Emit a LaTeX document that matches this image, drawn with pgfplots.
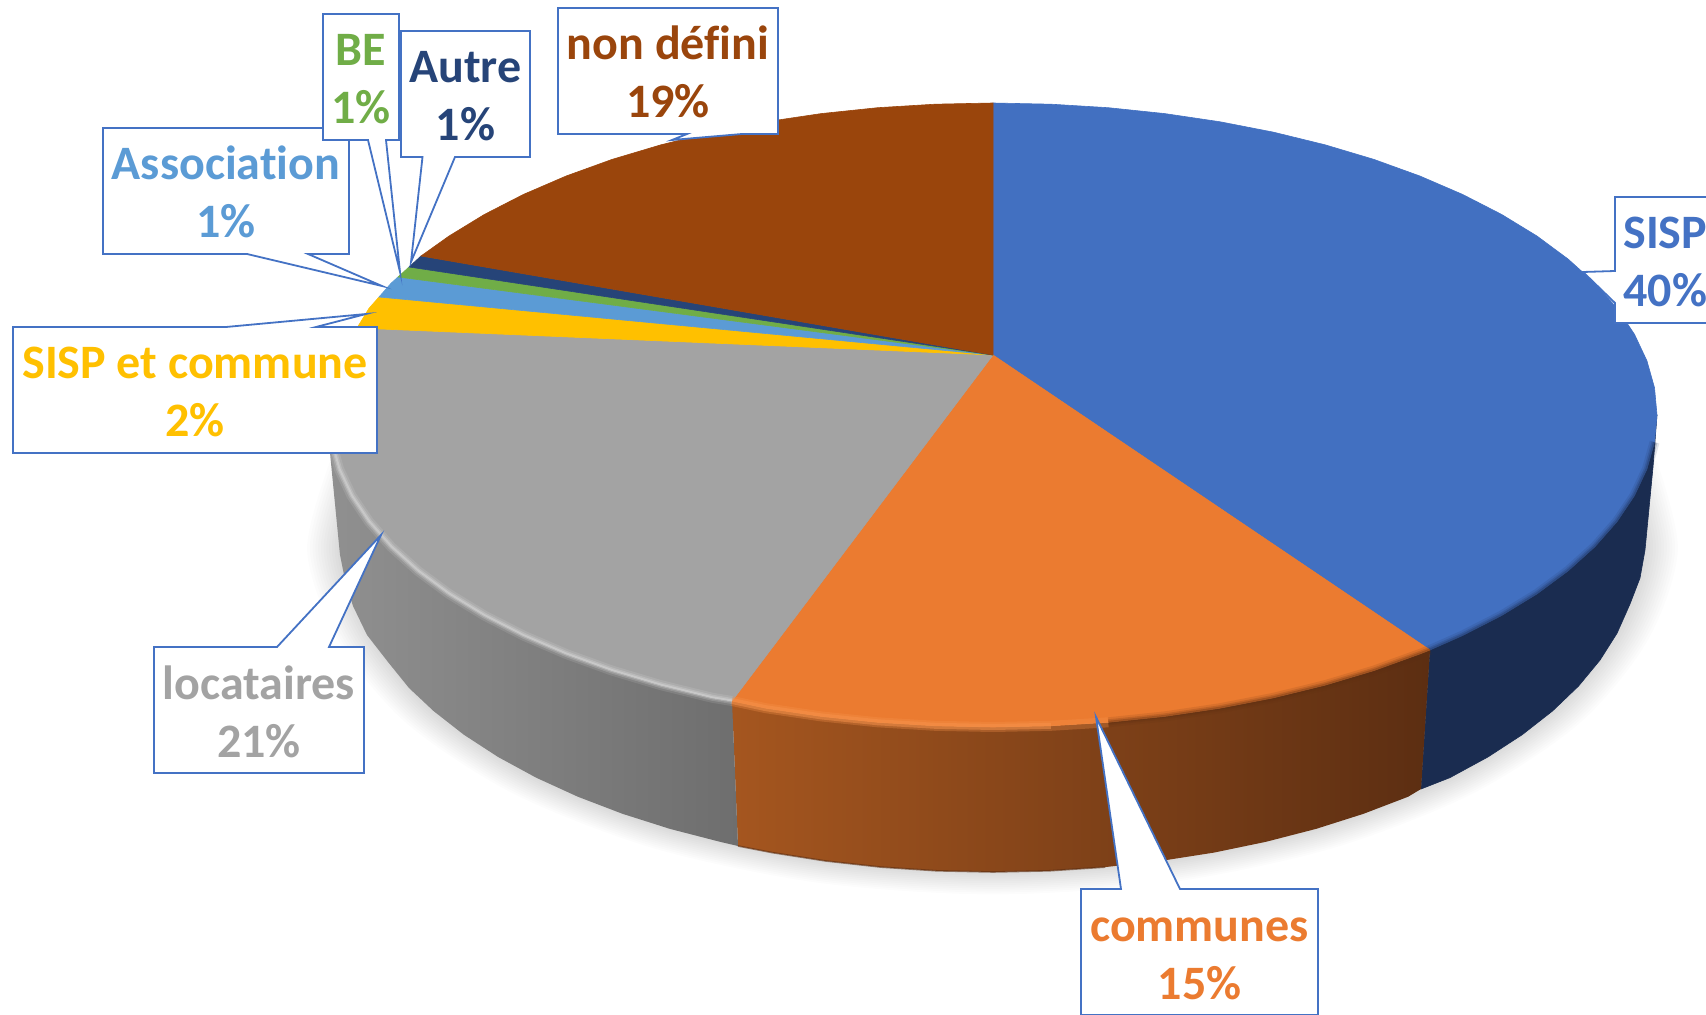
\documentclass[border=0pt]{standalone}
\usepackage{fontspec}
\setmainfont{Carlito}
\usepackage{pgfplots}
\usepackage{pgfplotstable}
\pgfplotsset{compat=1.18}
\definecolor{cblue}{HTML}{4270C1}
\definecolor{corange}{HTML}{EB7B30}
\definecolor{cgray}{HTML}{A3A3A3}
\definecolor{cyellow}{HTML}{FFC000}
\definecolor{clt}{HTML}{5B9BD5}
\definecolor{cgreen}{HTML}{70AD47}
\definecolor{cnavy}{HTML}{264478}
\definecolor{cbrown}{HTML}{9A450C}
\definecolor{cline}{HTML}{4472C4}
\definecolor{sblue}{HTML}{1A2C50}
\definecolor{HTMLa}{HTML}{A5561F}
\definecolor{HTMLb}{HTML}{6F3915}
\definecolor{HTMLc}{HTML}{5C2E12}
\definecolor{HTMLd}{HTML}{909090}
\definecolor{HTMLe}{HTML}{6E6E6E}
\definecolor{HTMLf}{HTML}{F7934C}
\pgfplotstableread{
x y
1625 466.7
1645 550
1617 633.3
1552.5 711
1449.8 777.7
1316 828.9
1160.2 861
993 872
825.8 861
670 828.9
536.2 777.7
433.5 711
369 633.3
340 550
362 466.7
}\shadowtab
\tikzset{
 lab/.style={font=\fontsize{24pt}{28pt}\bfseries\selectfont, anchor=base, inner sep=0pt},
 box/.style={draw=cline, fill=white, line width=0.9pt, line join=miter, miter limit=20},
}
\begin{document}
\begin{tikzpicture}
\useasboundingbox (0,0) rectangle (853pt,507.5pt);
\clip (0,0) rectangle (853pt,507.5pt);
\begin{axis}[
 scale only axis, width=853pt, height=507.5pt,
 xmin=0, xmax=1706, ymin=0, ymax=1015, y dir=reverse,
 hide axis, clip=false,
]
% soft shadow
\pgfplotsinvokeforeach{12,11,...,1}{
\addplot[fill=black, fill opacity=0.0125, draw=none, smooth] table[x expr={993+(\thisrow{x}-993)*(1+#1*0.0042)}, y expr={550+(\thisrow{y}-550)*(1+#1*0.0058)}] {\shadowtab};
}
% sides
\addplot[fill=sblue, draw=sblue, line width=0.3pt] coordinates {
(1657,415)(1654.5,442.2)(1646.9,469.2)(1634.4,495.8)(1617,521.7)(1594.8,546.9)(1568,571)(1536.9,594)(1501.7,615.5)(1462.5,635.6)(1430,650)
(1421,789)(1449.8,777.7)(1487.9,757)(1522.2,734.7)(1552.5,711)(1578.5,686.1)(1600,660.1)(1617,633.3)(1630,604)(1640,578)(1645,550)(1653,467)
} --cycle;
\addplot[draw=none, left color=HTMLa, middle color=HTMLb, right color=HTMLc] coordinates {
(1430,650)(1419.8,654)(1373.9,670.6)(1325,685.2)(1273.6,697.8)(1220.1,708.2)(1164.8,716.4)(1108.3,722.3)(1050.9,725.8)(993,727)(935.1,725.8)(877.7,722.3)(821.2,716.4)(765.9,708.2)(732,701)
(738,846)(772.1,852.6)(825.8,861)(880.8,867.1)(936.7,870.8)(993,872)(1049.3,870.8)(1105.2,867.1)(1160.2,861)(1213.9,852.6)(1266,841.8)(1316,828.9)(1363.5,813.8)(1408.2,796.7)(1421,789)
} --cycle;
\addplot[draw=none, left color=HTMLd, right color=HTMLe] coordinates {
(732,701)(712.4,697.8)(661,685.2)(612.1,670.6)(566.2,654)(523.5,635.6)(484.3,615.5)(449.1,594)(418,571)(391.2,546.9)(369,521.7)(351.6,495.8)(339.1,469.2)(331.5,442.2)(329,415)
(330,453)(340,555)(345,580)(353,606)(367,635)(388,662)(409,688)(433.5,711)(463.8,734.7)(498.1,757)(536.2,777.7)(577.8,796.7)(622.5,813.8)(670,828.9)(720,841.8)(738,846)
} --cycle;
\addplot[draw=HTMLc, opacity=0.6, line width=0.8pt] coordinates {(738,846)(772.1,852.6)(825.8,861)(880.8,867.1)(936.7,870.8)(993,872)(1049.3,870.8)(1105.2,867.1)};
% top faces
\addplot[fill=cblue, draw=cblue, line width=0.3pt] coordinates {
(993,355)(993,103)(1050.9,104.2)(1108.3,107.7)(1164.8,113.6)(1220.1,121.8)(1273.6,132.2)(1325,144.8)(1373.9,159.4)(1419.8,176)(1462.5,194.4)(1501.7,214.5)(1536.9,236)(1568,259)(1594.8,283.1)(1617,308.3)(1634.4,334.2)(1646.9,360.8)(1654.5,387.8)(1657,415)(1654.5,442.2)(1646.9,469.2)(1634.4,495.8)(1617,521.7)(1594.8,546.9)(1568,571)(1536.9,594)(1501.7,615.5)(1462.5,635.6)(1430,650)
} --cycle;
\addplot[fill=corange, draw=corange, line width=0.3pt] coordinates {
(993,355)(1430,650)(1419.8,654)(1373.9,670.6)(1325,685.2)(1273.6,697.8)(1220.1,708.2)(1164.8,716.4)(1108.3,722.3)(1050.9,725.8)(993,727)(935.1,725.8)(877.7,722.3)(821.2,716.4)(765.9,708.2)(732,701)
} --cycle;
\addplot[fill=cgray, draw=cgray, line width=0.3pt] coordinates {
(993,355)(732,701)(712.4,697.8)(661,685.2)(612.1,670.6)(566.2,654)(523.5,635.6)(484.3,615.5)(449.1,594)(418,571)(391.2,546.9)(369,521.7)(351.6,495.8)(339.1,469.2)(331.5,442.2)(329,415)(331.5,387.8)(339.1,360.8)(351.6,334.2)(357,328)
} --cycle;
\addplot[fill=cyellow, draw=cyellow, line width=0.3pt] coordinates {(993,355)(357,328)(369,308.3)(379,297)} --cycle;
\addplot[fill=clt, draw=clt, line width=0.3pt] coordinates {(993,355)(379,297)(391.2,283.1)(398,277)} --cycle;
\addplot[fill=cgreen, draw=cgreen, line width=0.3pt] coordinates {(993,355)(398,277)(409,267)} --cycle;
\addplot[fill=cnavy, draw=cnavy, line width=0.3pt] coordinates {(993,355)(409,267)(421,256)} --cycle;
\addplot[fill=cbrown, draw=cbrown, line width=0.3pt] coordinates {
(993,355)(421,256)(449.1,236)(484.3,214.5)(523.5,194.4)(566.2,176)(612.1,159.4)(661,144.8)(712.4,132.2)(765.9,121.8)(821.2,113.6)(877.7,107.7)(935.1,104.2)(993,103)
} --cycle;
% rim bevels
\addplot[draw=sblue, opacity=0.12, line width=5pt] coordinates {(1654.5,442.2)(1646.9,469.2)(1634.4,495.8)(1617,521.7)(1594.8,546.9)(1568,571)(1536.9,594)(1501.7,615.5)(1462.5,635.6)(1430,650)};
\addplot[draw=sblue, opacity=0.2, line width=3pt] coordinates {(1654.5,442.2)(1646.9,469.2)(1634.4,495.8)(1617,521.7)(1594.8,546.9)(1568,571)(1536.9,594)(1501.7,615.5)(1462.5,635.6)(1430,650)};
\addplot[draw=sblue, opacity=0.3, line width=1.5pt] coordinates {(1654.5,442.2)(1646.9,469.2)(1634.4,495.8)(1617,521.7)(1594.8,546.9)(1568,571)(1536.9,594)(1501.7,615.5)(1462.5,635.6)(1430,650)};
\addplot[draw=HTMLc, opacity=0.12, line width=5pt] coordinates {(1430,650)(1419.8,654)(1373.9,670.6)(1325,685.2)(1273.6,697.8)(1220.1,708.2)(1164.8,716.4)(1108.3,722.3)};
\addplot[draw=HTMLc, opacity=0.2, line width=3pt] coordinates {(1430,650)(1419.8,654)(1373.9,670.6)(1325,685.2)(1273.6,697.8)(1220.1,708.2)(1164.8,716.4)(1108.3,722.3)};
\addplot[draw=HTMLc, opacity=0.3, line width=1.5pt] coordinates {(1430,650)(1419.8,654)(1373.9,670.6)(1325,685.2)(1273.6,697.8)(1220.1,708.2)(1164.8,716.4)(1108.3,722.3)};
\addplot[draw=HTMLf, opacity=0.3, line width=5pt] coordinates {(1108.3,722.3)(1050.9,725.8)(993,727)(935.1,725.8)(877.7,722.3)(821.2,716.4)(765.9,708.2)(732,701)};
\addplot[draw=HTMLf, opacity=0.5, line width=3pt] coordinates {(1050.9,725.8)(993,727)(935.1,725.8)(877.7,722.3)(821.2,716.4)(765.9,708.2)(732,701)};
\addplot[draw=white, opacity=0.1, line width=5pt] coordinates {(732,701)(712.4,697.8)(661,685.2)(612.1,670.6)(566.2,654)(523.5,635.6)(484.3,615.5)(449.1,594)(418,571)(391.2,546.9)(369,521.7)(351.6,495.8)(339.1,469.2)(331.5,442.2)};
\addplot[draw=white, opacity=0.16, line width=3pt] coordinates {(732,701)(712.4,697.8)(661,685.2)(612.1,670.6)(566.2,654)(523.5,635.6)(484.3,615.5)(449.1,594)(418,571)(391.2,546.9)(369,521.7)(351.6,495.8)(339.1,469.2)(331.5,442.2)};
\addplot[draw=white, opacity=0.22, line width=1.5pt] coordinates {(732,701)(712.4,697.8)(661,685.2)(612.1,670.6)(566.2,654)(523.5,635.6)(484.3,615.5)(449.1,594)(418,571)(391.2,546.9)(369,521.7)(351.6,495.8)(339.1,469.2)(331.5,442.2)};
% callouts
\addplot[box] coordinates {(103,128)(349,128)(349,254)(308,254)(382,286)(247,254)(103,254)} --cycle;
\addplot[box] coordinates {(323,14)(399,14)(399,140)(386,140)(400,272)(368,140)(323,140)} --cycle;
\addplot[box] coordinates {(401,31)(530,31)(530,157)(455,157)(411,262)(422.5,157)(401,157)} --cycle;
\addplot[box] coordinates {(13,327)(226,327)(366,314)(316,327)(377,327)(377,453)(13,453)} --cycle;
\addplot[box] coordinates {(558,8)(778,8)(778,134)(742,134)(672,140)(687,134)(558,134)} --cycle;
\addplot[box] coordinates {(154,647)(277,647)(381,535)(329,647)(364,647)(364,773)(154,773)} --cycle;
\addplot[box] coordinates {(1081,889)(1121,889)(1096,717)(1180,889)(1318,889)(1318,1015)(1081,1015)} --cycle;
\addplot[box] coordinates {(1615,197)(1720,197)(1720,323)(1615,323)(1615,303)(1583,272)(1615,271)} --cycle;
% labels
\node[lab, text=clt] at (axis cs:226,180) {Associat\kern0pt ion};
\node[lab, text=clt] at (axis cs:226,238) {1\%};
\node[lab, text=cgreen] at (axis cs:361,66) {BE};
\node[lab, text=cgreen] at (axis cs:361,124) {1\%};
\node[lab, text=cnavy] at (axis cs:465.5,83) {Autre};
\node[lab, text=cnavy] at (axis cs:465.5,141) {1\%};
\node[lab, text=cyellow] at (axis cs:195,379) {SISP et commune};
\node[lab, text=cyellow] at (axis cs:195,437) {2\%};
\node[lab, text=cbrown] at (axis cs:668,60) {non déf\kern0pt ini};
\node[lab, text=cbrown] at (axis cs:668,118) {19\%};
\node[lab, text=cgray] at (axis cs:259,699) {locataires};
\node[lab, text=cgray] at (axis cs:259,757) {21\%};
\node[lab, text=corange] at (axis cs:1199.5,941) {communes};
\node[lab, text=corange] at (axis cs:1199.5,999) {15\%};
\node[lab, text=cline, anchor=base west] at (axis cs:1623,249) {SISP};
\node[lab, text=cline, anchor=base west] at (axis cs:1623,307) {40\%};
\end{axis}
\end{tikzpicture}
\end{document}
